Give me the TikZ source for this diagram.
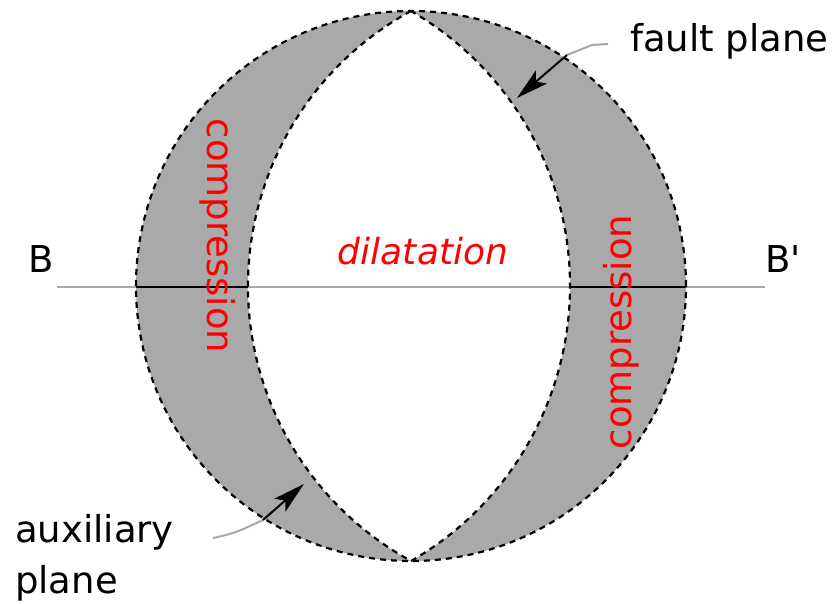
\documentclass[tikz,border=0pt]{standalone}
\usepackage{fontspec}
\newfontfamily\labelfont{DejaVu Sans}
\usetikzlibrary{arrows.meta}
\definecolor{bandgray}{RGB}{169,169,169}
\definecolor{linegray}{RGB}{168,168,168}
\definecolor{txtred}{RGB}{255,0,0}
\begin{document}
\begin{tikzpicture}[x=1pt,y=1pt,
  outline/.style={line width=2.2pt, dash pattern=on 6pt off 5pt},
  lbl/.style={font=\labelfont\fontsize{37}{44}\selectfont, inner sep=0pt},
  redlbl/.style={lbl, text=txtred},
  pointer/.style={line width=2pt, -{Stealth[length=32pt,width=17pt,inset=7pt]}},
  leader/.style={line width=2pt, draw=linegray}]
\useasboundingbox (0,0) rectangle (838,603);
% band
\fill[bandgray] (411,317) circle (275);
\fill[white] (411,592) arc[start angle=118.69,end angle=241.31,radius=313.5]
  arc[start angle=-60.07,end angle=60.07,radius=317.3] -- cycle;
% B-B' line
\coordinate (Bl) at (57,316);
\coordinate (Br) at (765,316);
\coordinate (circL) at (136,316);
\coordinate (lensL) at (248,316);
\coordinate (lensR) at (570,316);
\coordinate (circR) at (686,316);
\draw[leader] (Bl) -- (Br);
\draw[line width=2pt] (circL) -- (lensL);
\draw[line width=2pt] (lensR) -- (circR);
% outlines
\draw[outline] (411,317) circle (275);
\draw[outline] (411,592) arc[start angle=118.69,end angle=241.31,radius=313.5];
\draw[outline] (411,42) arc[start angle=-60.07,end angle=60.07,radius=317.3];
% labels
\node[lbl, anchor=base west] (B) at (28,330) {B};
\node[lbl, anchor=base west] (Bp) at (765,330) {B'};
\node[lbl, anchor=base west] (fault) at (630,551) {fault plane};
\node[lbl, anchor=base west] (aux) at (15,61) {auxiliary};
\node[lbl, anchor=base west] (plane) at (15,10) {plane};
\node[redlbl, anchor=base, font=\labelfont\itshape\fontsize{36}{44}\selectfont] (dil) at (423,338) {dilatation};
\node[redlbl, rotate=-90] (compL) at (218,367) {compression};
\node[redlbl, rotate=90] (compR) at (621,271) {compression};
% fault plane pointer
\coordinate (fpLead) at (608,559);
\coordinate (fpStart) at (567,548);
\coordinate (fpTip) at (517,505);
\draw[leader] (fpLead) -- (592,558) -- (fpStart);
\draw[pointer] (fpStart) -- (fpTip);
% auxiliary plane pointer
\coordinate (apLead) at (213,65);
\coordinate (apStart) at (263,83);
\coordinate (apTip) at (304,119);
\draw[leader] (apLead) .. controls (235,70) .. (apStart);
\draw[pointer] (apStart) -- (apTip);
\end{tikzpicture}
\end{document}
